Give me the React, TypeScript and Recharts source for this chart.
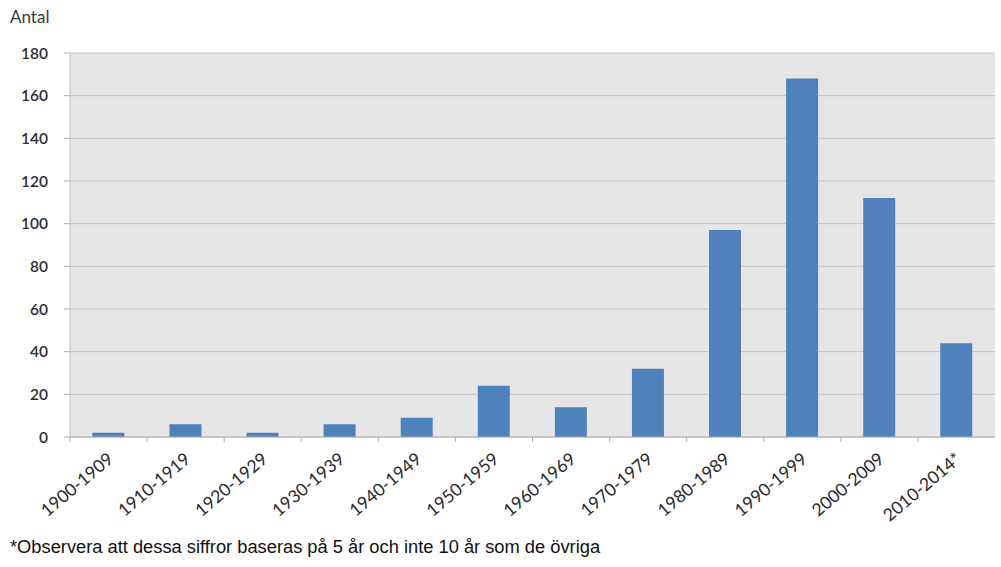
import { Bar, BarChart, CartesianGrid, XAxis, YAxis } from "recharts";

const PERIODS = [
  "1900-1909",
  "1910-1919",
  "1920-1929",
  "1930-1939",
  "1940-1949",
  "1950-1959",
  "1960-1969",
  "1970-1979",
  "1980-1989",
  "1990-1999",
  "2000-2009",
  "2010-2014*",
];
const COUNTS = [2, 6, 2, 6, 9, 24, 14, 32, 97, 168, 112, 44];
const Y_TICKS = [0, 20, 40, 60, 80, 100, 120, 140, 160, 180];

const data = PERIODS.map((period, i) => ({ period, antal: COUNTS[i] }));

const FONT = "Lato, 'Open Sans', sans-serif";

function PeriodTick(props: any) {
  const { x, y, payload } = props;
  const half = payload?.offset ?? 38.5;
  const ax = x + 6;
  const ay = y + 16;
  return (
    <g>
      <line x1={x - half} x2={x - half} y1={y - 8} y2={y - 3} stroke="#b0b0b0" />
      <text
        x={ax}
        y={ay}
        textAnchor="end"
        transform={`rotate(-40 ${ax} ${ay})`}
        fill="#2a2a2a"
        fontSize={17.5}
        fontFamily={FONT}
      >
        {payload.value}
      </text>
    </g>
  );
}

export default function App() {
  return (
    <div style={{ position: "absolute", left: 0, top: 0, width: 1001, height: 567, background: "#fff" }}>
      <div
        style={{
          position: "absolute",
          left: 10,
          top: 6,
          fontFamily: FONT,
          fontSize: 17,
          color: "#3a3a3a",
        }}
      >
        Antal
      </div>
      <BarChart
        width={1001}
        height={567}
        data={data}
        margin={{ top: 53, right: 6, left: 0, bottom: 0 }}
        barCategoryGap="29%"
      >
        <CartesianGrid vertical={false} fill="#e6e6e6" stroke="#c4c4c4" />
        <XAxis
          dataKey="period"
          height={130}
          interval={0}
          tick={<PeriodTick />}
          tickLine={false}
          axisLine={{ stroke: "#b0b0b0" }}
        />
        <YAxis
          domain={[0, 180]}
          ticks={Y_TICKS}
          width={70}
          tick={{ fill: "#2e2e2e", fontSize: 15.5, fontWeight: 600, fontFamily: FONT, dx: -14 }}
          tickLine={{ stroke: "#b0b0b0" }}
          tickSize={6}
          axisLine={{ stroke: "#c4c4c4" }}
        />
        <Bar dataKey="antal" fill="#4f81bd" isAnimationActive={false} />
      </BarChart>
      <div
        style={{
          position: "absolute",
          left: 10,
          top: 536,
          fontFamily: "'Liberation Sans', Arial, sans-serif",
          fontSize: 18.3,
          color: "#111",
        }}
      >
        *Observera att dessa siffror baseras på 5 år och inte 10 år som de övriga
      </div>
    </div>
  );
}
